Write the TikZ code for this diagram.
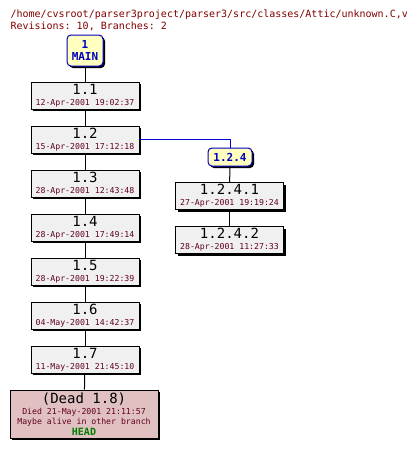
\documentclass[tikz,border=0pt]{standalone}
\usepackage{fontspec}
\setmonofont{DejaVu Sans Mono}
\usepackage{tikz}
\usetikzlibrary{shadows}
\definecolor{titlered}{RGB}{128,0,0}
\definecolor{datered}{RGB}{96,0,32}
\definecolor{tagblue}{RGB}{0,0,192}
\definecolor{linkblue}{RGB}{0,0,210}
\definecolor{tagfill}{RGB}{255,255,192}
\definecolor{revfill}{RGB}{240,240,240}
\definecolor{deadfill}{RGB}{224,192,192}
\definecolor{headgreen}{RGB}{0,128,0}
\tikzset{
  boxshadow/.style={drop shadow={shadow xshift=2pt, shadow yshift=-2pt, opacity=1, fill=black}},
  revbox/.style={draw, line width=1pt, fill=revfill, boxshadow, minimum width=108pt, minimum height=27pt, inner sep=0pt, align=center, font=\ttfamily},
  tagbox/.style={draw=tagblue, line width=1pt, fill=tagfill, boxshadow, rounded corners=4pt, inner sep=0pt, align=center, text=tagblue, font=\ttfamily\bfseries},
  titletext/.style={anchor=base west, inner sep=0pt, text=titlered, font=\ttfamily\fontsize{10}{12}\selectfont}
}
\newcommand{\revnum}[1]{{\fontsize{14}{13}\selectfont #1}}
\newcommand{\revdate}[1]{{\fontsize{8.2}{9}\selectfont\color{datered}#1}}

\begin{document}
\begin{tikzpicture}[x=1pt, y=-1pt, line width=1pt]
    \useasboundingbox (0,0) rectangle (416,451);
    \node[titletext] (path) at (10,17) {/home/cvsroot/parser3project/parser3/src/classes/Attic/unknown.C,v};
    \node[titletext] (count) at (10,29) {Revisions: 10, Branches: 2};
    % trunk
    \node[tagbox, minimum width=36pt, minimum height=31pt, font=\ttfamily\bfseries\fontsize{11}{12}\selectfont] (main) at (85,50.5) {1\\MAIN};
    \foreach \r/\d [count=\i] in {1.1/12-Apr-2001 19:02:37, 1.2/15-Apr-2001 17:12:18, 1.3/28-Apr-2001 12:43:48,
        1.4/28-Apr-2001 17:49:14, 1.5/28-Apr-2001 19:22:39, 1.6/04-May-2001 14:42:37, 1.7/11-May-2001 21:45:10}
        {\node[revbox] (r\i) at (85,51.5+44*\i) {\revnum{\r}\\[-1pt]\revdate{\d}};}
    \node[revbox, fill=deadfill, minimum width=148pt, minimum height=48pt] (dead) at (84,414)
        {\revnum{(Dead 1.8)}\\[-1pt]\revdate{Died 21-May-2001 21:11:57}\\[-2pt]\revdate{Maybe alive in other branch}\\[-1pt]{\bfseries\fontsize{10}{11}\selectfont\color{headgreen}HEAD}};
    % branch
    \node[tagbox, minimum width=44pt, minimum height=18pt, font=\ttfamily\bfseries\fontsize{11}{12}\selectfont] (b124) at (230,157) {1.2.4};
    \node[revbox] (b1) at (229.5,196) {\revnum{1.2.4.1}\\[-1pt]\revdate{27-Apr-2001 19:19:24}};
    \node[revbox] (b2) at (229.5,240) {\revnum{1.2.4.2}\\[-1pt]\revdate{28-Apr-2001 11:27:33}};
    % connectors
    \draw (main) -- (r1);
    \foreach \i [evaluate=\i as \j using int(\i+1)] in {1,...,6} {\draw (r\i) -- (r\j);}
    \draw (r7) -- (dead);
    \draw[linkblue] (r2.east) -| (b124.north);
    \draw (b124) -- (b1);
    \draw (b1) -- (b2);
\end{tikzpicture}
\end{document}
